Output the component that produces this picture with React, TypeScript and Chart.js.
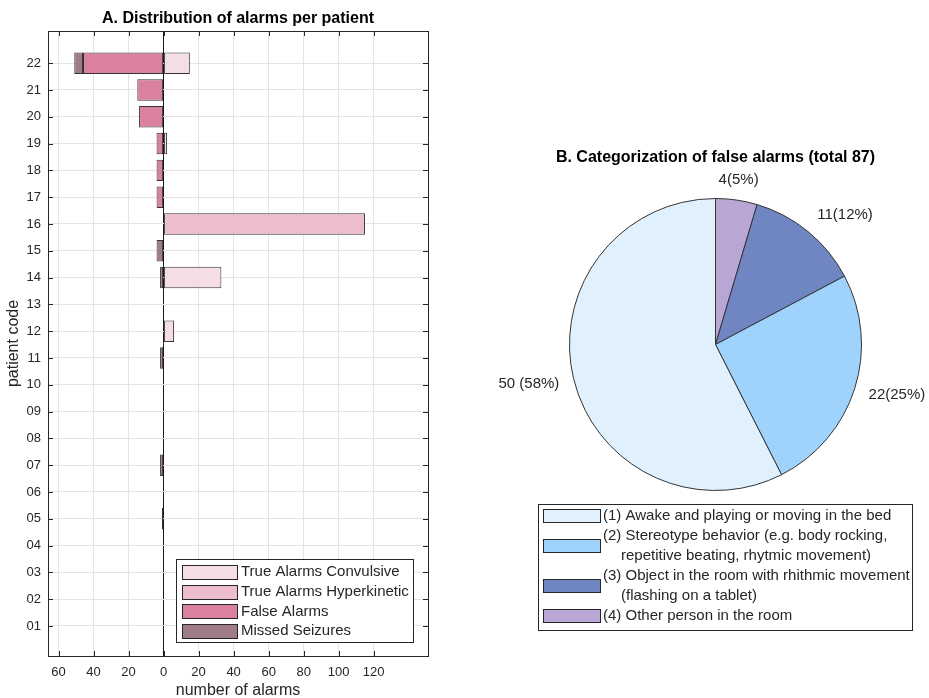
import React, { useEffect, useRef } from 'react';
import { Chart, registerables } from 'chart.js';

Chart.register(...registerables);

const FONT = "'Liberation Sans', Arial, Helvetica, sans-serif";
const TEXT = '#262626';

// ---------- Panel A data ----------
const patients = ['01', '02', '03', '04', '05', '06', '07', '08', '09', '10', '11', '12', '13', '14', '15', '16', '17', '18', '19', '20', '21', '22'];
const trueConvulsive = [0, 0, 0, 0, 0, 0, 0, 0, 0, 0, 0, 6, 0, 33, 0, 0, 0, 0, 2, 0, 0, 15];
const trueHyperkinetic = [0, 0, 0, 0, 0, 0, 0, 0, 0, 0, 0, 0, 0, 0, 0, 115, 0, 0, 0, 0, 0, 0];
const falseAlarms = [0, 0, 0, 0, 0, 0, 0, 0, 0, 0, 0, 0, 0, 0, 0, 0, 4, 4, 4, 14, 15, 46];
const missedSeizures = [0, 0, 0, 0, 1, 0, 2, 0, 0, 0, 2, 0, 0, 2, 4, 0, 0, 0, 0, 0, 0, 5];
const xTickValues = [-60, -40, -20, 0, 20, 40, 60, 80, 100, 120];
const seriesNames = ['True Alarms Convulsive', 'True Alarms Hyperkinetic', 'False Alarms', 'Missed Seizures'];
const seriesColors = ['#f4dde6', '#edbccd', '#da80a0', '#a07b8a'];

// ---------- Panel B data ----------
const falseCategories = [
  ['(1) Awake and playing or moving in the bed'],
  ['(2) Stereotype behavior (e.g. body rocking,', 'repetitive beating, rhytmic movement)'],
  ['(3) Object in the room with rhithmic movement', '(flashing on a tablet)'],
  ['(4) Other person in the room'],
];
const falseCounts = [50, 22, 11, 4];
const falseLabels = ['50 (58%)', '22(25%)', '11(12%)', '4(5%)'];
const pieColors = ['#e0f0fd', '#9fd3fb', '#6f86c2', '#b9a6d4'];

const titleA = 'A. Distribution of alarms per patient';
const titleB = 'B. Categorization of false alarms (total 87)';

type LegendItem = { color: string; lines: string[] };
type LegendCfg = { fontSize: number; swX: number; swW: number; swH: number; textX: number; indent: number; first: number; step: number };

function boxLegend(ctx: CanvasRenderingContext2D, left: number, top: number, width: number, height: number, items: LegendItem[], cfg: LegendCfg) {
  ctx.save();
  ctx.fillStyle = '#ffffff';
  ctx.fillRect(left, top, width, height);
  ctx.strokeStyle = TEXT;
  ctx.lineWidth = 1;
  ctx.strokeRect(Math.round(left) + 0.5, Math.round(top) + 0.5, width, height);
  ctx.font = `${cfg.fontSize}px ${FONT}`;
  ctx.textBaseline = 'middle';
  ctx.textAlign = 'left';
  let line = 0;
  items.forEach((item) => {
    const n = item.lines.length;
    const cy = top + cfg.first + (line + (n - 1) / 2) * cfg.step;
    const sx = Math.round(left + cfg.swX) + 0.5;
    const sy = Math.round(cy - cfg.swH / 2) + 0.5;
    ctx.fillStyle = item.color;
    ctx.fillRect(sx, sy, cfg.swW, cfg.swH);
    ctx.strokeStyle = TEXT;
    ctx.strokeRect(sx, sy, cfg.swW, cfg.swH);
    ctx.fillStyle = TEXT;
    item.lines.forEach((t, j) => {
      ctx.fillText(t, left + cfg.textX + (j > 0 ? cfg.indent : 0), top + cfg.first + (line + j) * cfg.step);
    });
    line += n;
  });
  ctx.restore();
}

const panelAPlugin = {
  id: 'panelA',
  afterDraw(chart: any) {
    const { ctx, chartArea: a, scales } = chart;
    ctx.save();
    // inward ticks
    ctx.strokeStyle = TEXT;
    ctx.lineWidth = 1;
    ctx.beginPath();
    scales.x.ticks.forEach((t: any) => {
      const px = Math.round(scales.x.getPixelForValue(t.value)) + 0.5;
      ctx.moveTo(px, a.bottom); ctx.lineTo(px, a.bottom - 5);
      ctx.moveTo(px, a.top); ctx.lineTo(px, a.top + 5);
    });
    scales.y.ticks.forEach((t: any) => {
      const py = Math.round(scales.y.getPixelForValue(t.value)) + 0.5;
      ctx.moveTo(a.left, py); ctx.lineTo(a.left + 5, py);
      ctx.moveTo(a.right, py); ctx.lineTo(a.right - 5, py);
    });
    ctx.stroke();
    // box
    ctx.strokeRect(Math.round(a.left) + 0.5, Math.round(a.top) + 0.5, Math.round(a.right - a.left), Math.round(a.bottom - a.top));
    // title
    ctx.fillStyle = '#000';
    ctx.font = `bold 16px ${FONT}`;
    ctx.textAlign = 'center';
    ctx.textBaseline = 'middle';
    ctx.fillText(titleA, (a.left + a.right) / 2, a.top - 12);
    ctx.restore();
    // legend inside axes (bottom right)
    const items = chart.data.datasets.map((d: any) => ({ color: d.backgroundColor, lines: [d.label] }));
    boxLegend(ctx, a.right - 252, a.bottom - 97, 237, 83, items, {
      fontSize: 15, swX: 6, swW: 55, swH: 14, textX: 65, indent: 0, first: 13, step: 19.7,
    });
  },
};

const panelBPlugin = {
  id: 'panelB',
  afterDraw(chart: any) {
    const { ctx } = chart;
    const meta = chart.getDatasetMeta(0);
    const arcs = meta.data;
    if (!arcs.length) return;
    const cx = arcs[0].x;
    const cy = arcs[0].y;
    const r = arcs[0].outerRadius;
    ctx.save();
    // title
    ctx.fillStyle = '#000';
    ctx.font = `bold 16px ${FONT}`;
    ctx.textAlign = 'center';
    ctx.textBaseline = 'middle';
    ctx.fillText(titleB, cx, cy - r - 41);
    // slice labels
    const labels: string[] = chart.data.labels;
    ctx.font = `15px ${FONT}`;
    ctx.fillStyle = TEXT;
    arcs.forEach((arc: any, i: number) => {
      const mid = (arc.startAngle + arc.endAngle) / 2;
      const dx = Math.cos(mid);
      const dy = Math.sin(mid);
      const px = cx + dx * r * 1.1;
      const py = cy + dy * r * 1.1;
      ctx.textAlign = Math.abs(dx) < 0.3 ? 'center' : dx > 0 ? 'left' : 'right';
      ctx.textBaseline = dy < -0.5 ? 'bottom' : 'middle';
      ctx.fillText(labels[i], px, py + 2);
    });
    ctx.restore();
    // legend (category order)
    const items = falseCategories.map((lines, i) => ({ color: pieColors[i], lines }));
    boxLegend(ctx, cx - 177.5, cy + r + 13, 374, 126, items, {
      fontSize: 15, swX: 5, swW: 57, swH: 13, textX: 65, indent: 18, first: 12, step: 20,
    });
  },
};

export default function App() {
  const leftRef = useRef<HTMLCanvasElement | null>(null);
  const rightRef = useRef<HTMLCanvasElement | null>(null);

  useEffect(() => {
    if (!leftRef.current || !rightRef.current) return;
    const toBar = (arr: number[], sign: number) => arr.map((v) => (v === 0 ? null : sign * v));
    const rowValues = patients.map((p) => parseInt(p, 10));

    const barChart = new Chart(leftRef.current, {
      type: 'bar',
      data: {
        labels: rowValues,
        datasets: [
          { label: seriesNames[0], data: toBar(trueConvulsive, 1), backgroundColor: seriesColors[0] },
          { label: seriesNames[1], data: toBar(trueHyperkinetic, 1), backgroundColor: seriesColors[1] },
          { label: seriesNames[2], data: toBar(falseAlarms, -1), backgroundColor: seriesColors[2] },
          { label: seriesNames[3], data: toBar(missedSeizures, -1), backgroundColor: seriesColors[3] },
        ].map((d) => ({ ...d, stack: 'all', borderColor: '#333333', borderWidth: 1, borderSkipped: false, barPercentage: 0.8, categoryPercentage: 1 })) as any,
      },
      options: {
        indexAxis: 'y',
        animation: false,
        responsive: false,
        devicePixelRatio: 1,
        layout: { padding: { top: 31, right: 17, left: 0, bottom: 0 } },
        plugins: { legend: { display: false }, title: { display: false }, tooltip: { enabled: false } },
        scales: {
          x: {
            type: 'linear',
            stacked: true,
            min: -66,
            max: 151,
            afterBuildTicks: (s: any) => { s.ticks = xTickValues.map((v) => ({ value: v })); },
            afterFit: (s: any) => { s.height = 42; },
            grid: {
              color: (c: any) => (c.tick && c.tick.value === 0 ? '#1a1a1a' : '#e4e4e4'),
              drawTicks: false,
            },
            border: { display: false },
            ticks: { padding: 9, color: TEXT, font: { size: 13, family: FONT }, maxRotation: 0, callback: (v: any) => String(Math.abs(Number(v))) },
            title: { display: true, text: 'number of alarms', color: TEXT, font: { size: 16, family: FONT }, padding: { top: 0, bottom: -2 } },
          },
          y: {
            type: 'linear',
            stacked: true,
            offset: false,
            min: -0.12,
            max: 23.2,
            afterBuildTicks: (s: any) => { s.ticks = rowValues.map((v) => ({ value: v })); },
            afterFit: (s: any) => { s.width = 48; },
            grid: { color: '#e4e4e4', drawTicks: false, offset: false },
            border: { display: false },
            ticks: { padding: 7, color: TEXT, font: { size: 13, family: FONT }, callback: (v: any) => patients[Number(v) - 1] ?? '' },
            title: { display: true, text: 'patient code', color: TEXT, font: { size: 16, family: FONT }, padding: { top: 4, bottom: 4 } },
          },
        },
      } as any,
      plugins: [panelAPlugin],
    });

    const pieChart = new Chart(rightRef.current, {
      type: 'pie',
      data: {
        labels: [...falseLabels].reverse(),
        datasets: [{
          data: [...falseCounts].reverse(),
          backgroundColor: [...pieColors].reverse(),
          borderColor: '#333333',
          borderWidth: 1,
        }],
      },
      options: {
        animation: false,
        responsive: false,
        devicePixelRatio: 1,
        layout: { padding: { left: 124, right: 67, top: 198, bottom: 207 } },
        plugins: { legend: { display: false }, title: { display: false }, tooltip: { enabled: false } },
      } as any,
      plugins: [panelBPlugin],
    });

    return () => {
      barChart.destroy();
      pieChart.destroy();
    };
  }, []);

  return (
    <div style={{ position: 'absolute', left: 0, top: 0, width: 929, height: 698, background: '#fff', overflow: 'hidden' }}>
      <canvas ref={leftRef} width={445} height={698} style={{ position: 'absolute', left: 0, top: 0, width: 445, height: 698 }} />
      <canvas ref={rightRef} width={484} height={698} style={{ position: 'absolute', left: 445, top: 0, width: 484, height: 698 }} />
    </div>
  );
}
